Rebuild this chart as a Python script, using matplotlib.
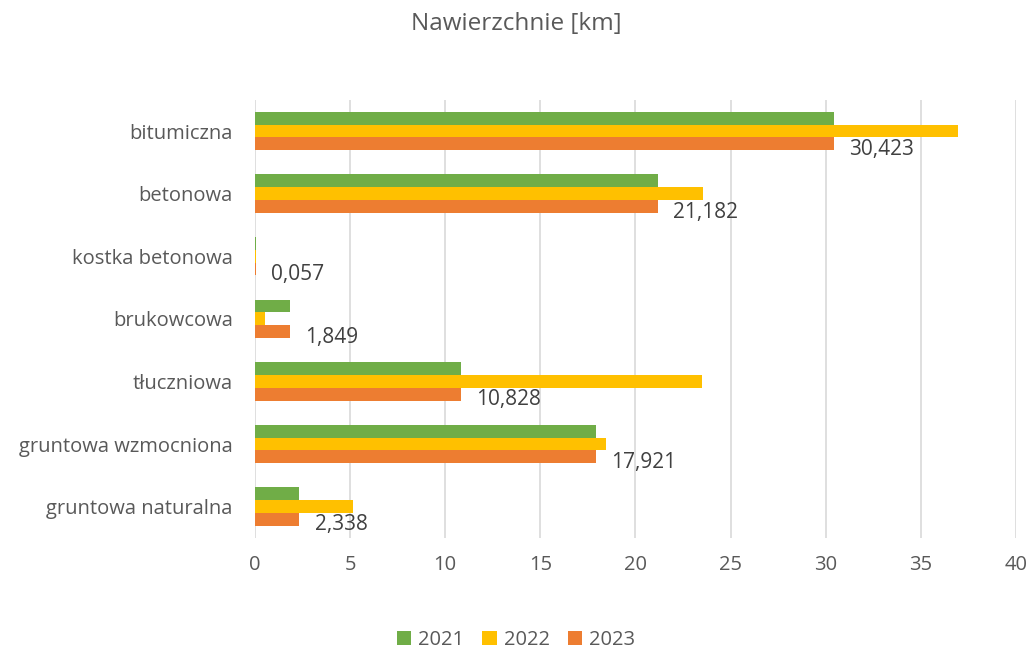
import numpy as np
import matplotlib.pyplot as plt

categories = ["bitumiczna", "betonowa", "kostka betonowa", "brukowcowa",
              "tłuczniowa", "gruntowa wzmocniona", "gruntowa naturalna"]
v2021 = [30.423, 21.182, 0.057, 1.849, 10.828, 17.921, 2.338]
v2022 = [36.95, 23.55, 0.05, 0.53, 23.52, 18.43, 5.13]
v2023 = [30.423, 21.182, 0.057, 1.849, 10.828, 17.921, 2.338]
labels2023 = ["30,423", "21,182", "0,057", "1,849", "10,828", "17,921", "2,338"]

plt.rcParams["font.family"] = ["Open Sans", "DejaVu Sans"]
text_col = "#595959"

fig = plt.figure(figsize=(10.32, 6.52), dpi=100)
ax = fig.add_axes([0.247, 0.175, 0.7375, 0.672])

y = np.arange(len(categories))
h = 0.205
ax.barh(y - h, v2021, height=h, color="#70AD47", label="2021", zorder=3)
ax.barh(y, v2022, height=h, color="#FFC000", label="2022", zorder=3)
ax.barh(y + h, v2023, height=h, color="#ED7D31", label="2023", zorder=3)

for yi, v, lab in zip(y, v2023, labels2023):
    ax.annotate(lab, (v, yi + h), xytext=(11, -4), textcoords="offset points",
                ha="left", va="center", fontsize=15, color="#404040")

ax.set_ylim(len(categories) - 0.5, -0.5)
ax.set_xlim(0, 40)
ax.set_xticks(range(0, 41, 5))
ax.set_yticks(y)
ax.set_yticklabels(categories)
ax.tick_params(axis="both", length=0, labelsize=14.5, labelcolor=text_col)
ax.tick_params(axis="x", pad=12)
ax.tick_params(axis="y", pad=16)
ax.grid(axis="x", color="#D9D9D9", linewidth=1.2, zorder=0)
for s in ax.spines.values():
    s.set_visible(False)

fig.suptitle("Nawierzchnie [km]", y=0.982, fontsize=17.5, color=text_col)
fig.legend(loc="lower center", ncol=3, frameon=False, fontsize=14.5,
           bbox_to_anchor=(0.5, -0.025), handlelength=0.7, handleheight=0.7,
           handletextpad=0.35, columnspacing=0.9, labelcolor=text_col)

fig.savefig("out.png", dpi=100)
